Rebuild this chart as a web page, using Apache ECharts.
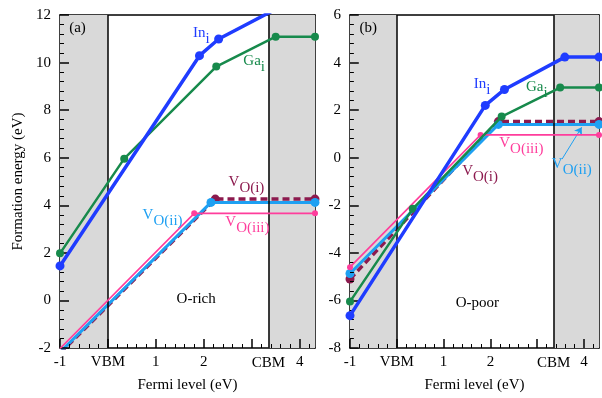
<!DOCTYPE html>
<html lang="en">
<head>
<meta charset="utf-8">
<title>formation energy</title>
<script src="https://cdn.jsdelivr.net/npm/echarts@6/dist/echarts.min.js"></script>
<style>
  html, body { margin:0; padding:0; background:#fff; }
  #chart { width:602px; height:398px; }
</style>
</head>
<body>
<div id="chart"></div>
<script>
// x axis: Fermi level, VBM at 0, CBM at 3.35
var xMin = -1, xMax = 4.32;
var vbm = 0, cbm = 3.35;
var xTickText = {'-1': '-1', '0': 'VBM', '1': '1', '2': '2', '4': '4'};
var yRangeA = [-2, 12];
var yRangeB = [-8, 6];

// (a) O-rich
var inA   = [[-1, 1.45], [1.91, 10.29], [2.31, 10.99], [3.42, 12.16], [4.32, 12.16]];
var gaA   = [[-1, 1.98], [0.34, 5.96], [2.26, 9.83], [3.50, 11.09], [4.32, 11.09]];
var vo1A  = [[-1, -2.22], [2.24, 4.26], [4.32, 4.26]];
var vo2A  = [[-1, -2.18], [2.15, 4.12], [4.32, 4.12]];
var vo3A  = [[-1, -2.02], [1.80, 3.66], [4.32, 3.66]];

// (b) O-poor
var inB   = [[-1, -6.64], [1.89, 2.20], [2.30, 2.87], [3.59, 4.23], [4.32, 4.23]];
var gaB   = [[-1, -6.05], [0.34, -2.15], [2.24, 1.73], [3.49, 2.95], [4.32, 2.95]];
var vo1B  = [[-1, -5.10], [2.17, 1.52], [4.32, 1.52]];
var vo2B  = [[-1, -4.87], [2.17, 1.40], [4.32, 1.40]];
var vo3B  = [[-1, -4.60], [1.79, 0.96], [4.32, 0.96]];

var FONT = 'Liberation Serif';
var C_IN = '#1f3cff', C_GA = '#178a4c', C_VO1 = '#8c1a4e', C_VO2 = '#1ea0f2', C_VO3 = '#ff3d9c';

// annotations: [main, subscript, x, y, colour]
var notesA = [
    ['(a)', '', -0.635, 11.45, '#000'],
    ['O-rich', '', 1.84, 0.04, '#000'],
    ['In', 'i', 1.95, 11.1, C_IN],
    ['Ga', 'i', 3.05, 9.95, C_GA],
    ['V', 'O(i)', 2.89, 4.85, C_VO1],
    ['V', 'O(ii)', 1.14, 3.47, C_VO2],
    ['V', 'O(iii)', 2.91, 3.18, C_VO3]
];
var notesB = [
    ['(b)', '', -0.61, 5.46, '#000'],
    ['O-poor', '', 1.72, -6.12, '#000'],
    ['In', 'i', 1.82, 2.98, C_IN],
    ['Ga', 'i', 2.99, 2.86, C_GA],
    ['V', 'O(iii)', 2.66, 0.49, C_VO3],
    ['V', 'O(i)', 1.78, -0.68, C_VO1],
    ['V', 'O(ii)', 3.74, -0.40, C_VO2]
];

// plot box size in px (both grids), used only to size tick marks
var plotW = 255, plotH = 335;

var chart = echarts.init(document.getElementById('chart'));

function xAxisMain(grid) {
    return {
        type: 'value', gridIndex: grid, min: xMin, max: xMax, interval: 1,
        name: 'Fermi level (eV)', nameLocation: 'middle', nameGap: 30,
        nameTextStyle: {fontFamily: FONT, fontSize: 15, color: '#000'},
        axisLine: {show: true, onZero: false, lineStyle: {color: '#000', width: 1.5}},
        axisTick: {show: false},
        splitLine: {show: false},
        axisLabel: {
            fontFamily: FONT, fontSize: 15, color: '#000', margin: 7,
            formatter: function (v) {
                var k = Math.round(v * 100) / 100;
                return xTickText[String(k)] || '';
            }
        }
    };
}
function xAxisTop(grid) {
    return {
        type: 'value', gridIndex: grid, min: xMin, max: xMax, position: 'top',
        axisLine: {show: true, onZero: false, lineStyle: {color: '#000', width: 1.5}},
        axisTick: {show: false}, axisLabel: {show: false}, splitLine: {show: false}
    };
}
function yAxisMain(grid, range, named) {
    return {
        type: 'value', gridIndex: grid, min: range[0], max: range[1], interval: 2,
        name: named ? 'Formation energy (eV)' : '', nameLocation: 'middle', nameGap: 34,
        nameTextStyle: {fontFamily: FONT, fontSize: 15, color: '#000'},
        axisLine: {show: true, onZero: false, lineStyle: {color: '#000', width: 1.5}},
        axisTick: {show: false},
        splitLine: {show: false},
        axisLabel: {fontFamily: FONT, fontSize: 15, color: '#000', margin: 9}
    };
}
function yAxisRight(grid, range) {
    return {
        type: 'value', gridIndex: grid, min: range[0], max: range[1], position: 'right',
        axisLine: {show: true, onZero: false, lineStyle: {color: '#000', width: 1.5}},
        axisTick: {show: false}, axisLabel: {show: false}, splitLine: {show: false}
    };
}

// inward ticks: major every 1 (x) / 2 (y), four minor ticks between
function tickSegments(yRange) {
    var segs = [];
    var ux = (xMax - xMin) / plotW, uy = (yRange[1] - yRange[0]) / plotH;
    var i, v, major, len;
    for (i = 0; xMin + i * 0.2 <= xMax + 1e-9; i++) {
        v = xMin + i * 0.2;
        major = i % 5 === 0;
        len = (major ? 9 : 4) * uy;
        segs.push([{coord: [v, yRange[0]], lineStyle: {width: major ? 1.5 : 1}}, {coord: [v, yRange[0] + len]}]);
    }
    for (i = 0; yRange[0] + i * 0.4 <= yRange[1] + 1e-9; i++) {
        v = yRange[0] + i * 0.4;
        major = i % 5 === 0;
        len = (major ? 9 : 4) * ux;
        segs.push([{coord: [xMin, v], lineStyle: {width: major ? 1.5 : 1}}, {coord: [xMin + len, v]}]);
    }
    return segs;
}

function note(n) {
    var text = n[1] ? '{m|' + n[0] + '}{s|' + n[1] + '}' : '{p|' + n[0] + '}';
    return {
        coord: [n[2], n[3]], symbolSize: 0,
        label: {
            show: true, position: 'inside', formatter: text, color: n[4],
            rich: {
                p: {fontFamily: FONT, fontSize: 15, color: n[4]},
                m: {fontFamily: FONT, fontSize: 15, color: n[4], lineHeight: 21, verticalAlign: 'top'},
                s: {fontFamily: FONT, fontSize: 15, color: n[4], lineHeight: 21, verticalAlign: 'bottom'}
            }
        }
    };
}

function panelSeries(xi, yi, yRange, notes, inD, gaD, vo1D, vo2D, vo3D) {
    var base = {type: 'line', xAxisIndex: xi, yAxisIndex: yi, symbol: 'circle', clip: true, animation: false, silent: true};
    var labels = notes.map(note);
    labels.push({
        coord: [cbm, yRange[0]], symbolSize: 0,
        label: {show: true, position: 'inside', offset: [0, 15], formatter: 'CBM',
            fontFamily: FONT, fontSize: 15, color: '#000'}
    });
    return [
        Object.assign({}, base, {
            data: [], z: 1, clip: false,
            markArea: {
                silent: true, itemStyle: {color: '#d9d9d9'},
                data: [[{xAxis: xMin}, {xAxis: vbm}], [{xAxis: cbm}, {xAxis: xMax}]]
            },
            markLine: {
                silent: true, symbol: 'none', label: {show: false}, animation: false,
                lineStyle: {color: '#000', width: 1.5, type: 'solid'},
                data: [{xAxis: vbm}, {xAxis: cbm}]
            },
            markPoint: {silent: true, symbol: 'circle', symbolSize: 0, animation: false, z: 20, data: labels}
        }),
        Object.assign({}, base, {data: vo1D, z: 3, symbolSize: 9, itemStyle: {color: C_VO1},
            lineStyle: {color: C_VO1, width: 3.5, type: [7, 4]}}),
        Object.assign({}, base, {data: vo2D, z: 4, symbolSize: 9, itemStyle: {color: C_VO2},
            lineStyle: {color: C_VO2, width: 3}}),
        Object.assign({}, base, {data: vo3D, z: 5, symbolSize: 6, itemStyle: {color: C_VO3},
            lineStyle: {color: C_VO3, width: 1.6}}),
        Object.assign({}, base, {data: gaD, z: 6, symbolSize: 8, itemStyle: {color: C_GA},
            lineStyle: {color: C_GA, width: 2.5}}),
        Object.assign({}, base, {data: inD, z: 7, symbolSize: 9, itemStyle: {color: C_IN},
            lineStyle: {color: C_IN, width: 3.5}}),
        Object.assign({}, base, {
            data: [], z: 10, clip: false,
            markLine: {
                silent: true, symbol: 'none', label: {show: false}, animation: false,
                lineStyle: {color: '#000', width: 1, type: 'solid'},
                data: tickSegments(yRange)
            }
        })
    ];
}

var seriesA = panelSeries(0, 0, yRangeA, notesA, inA, gaA, vo1A, vo2A, vo3A);
var seriesB = panelSeries(2, 2, yRangeB, notesB, inB, gaB, vo1B, vo2B, vo3B);
// arrow pointing to V_O(ii) in panel (b)
seriesB[2].markLine = {
    silent: true, symbol: ['none', 'arrow'], symbolSize: 7, label: {show: false}, animation: false,
    lineStyle: {color: C_VO2, width: 1, type: 'solid'},
    data: [[{coord: [3.53, -0.06]}, {coord: [3.95, 1.28]}]]
};

chart.setOption({
    backgroundColor: '#fff',
    grid: [
        {left: 60, right: 287, top: 15, bottom: 48},
        {left: 350, right: -3, top: 15, bottom: 48}
    ],
    xAxis: [xAxisMain(0), xAxisTop(0), xAxisMain(1), xAxisTop(1)],
    yAxis: [yAxisMain(0, yRangeA, true), yAxisRight(0, yRangeA), yAxisMain(1, yRangeB, false), yAxisRight(1, yRangeB)],
    series: seriesA.concat(seriesB)
});
</script>
</body>
</html>
